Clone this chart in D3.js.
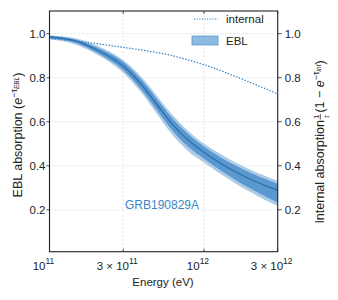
<!DOCTYPE html>
<html>
<head>
<meta charset="utf-8">
<script src="https://cdn.jsdelivr.net/npm/d3@7"></script>
<style>
body{margin:0;background:#fff;}
text{font-family:"Liberation Sans",Arial,sans-serif;}
</style>
</head>
<body>
<svg id="chart" width="338" height="300"></svg>
<script>
// energies (eV) and values
var energy   = [1e11, 1.5e11, 2e11, 3e11, 4e11, 5e11, 6e11, 7e11, 8e11, 1e12, 1.3e12, 1.6e12, 2e12, 2.5e12, 3e12];
var eblMed   = [0.985, 0.965, 0.928, 0.853, 0.763, 0.675, 0.603, 0.552, 0.514, 0.462, 0.409, 0.373, 0.339, 0.310, 0.288];
var eblIn1   = [0.990, 0.973, 0.940, 0.871, 0.785, 0.700, 0.630, 0.579, 0.541, 0.488, 0.436, 0.401, 0.368, 0.340, 0.318];
var eblIn0   = [0.979, 0.957, 0.916, 0.835, 0.740, 0.650, 0.575, 0.522, 0.483, 0.432, 0.376, 0.336, 0.297, 0.261, 0.233];
var eblOut1  = [0.993, 0.978, 0.948, 0.880, 0.798, 0.715, 0.645, 0.594, 0.555, 0.501, 0.450, 0.415, 0.382, 0.354, 0.332];
var eblOut0  = [0.975, 0.949, 0.908, 0.823, 0.726, 0.632, 0.556, 0.502, 0.463, 0.415, 0.360, 0.320, 0.281, 0.244, 0.216];
var internal = [0.978, 0.966, 0.955, 0.938, 0.925, 0.914, 0.903, 0.891, 0.880, 0.859, 0.831, 0.806, 0.778, 0.750, 0.726];
var yTicks = [0.2, 0.4, 0.6, 0.8, 1.0];
var xTicks = [1e11, 3e11, 1e12, 3e12];
var xTickMant = ["", "3 \u00d7 ", "", "3 \u00d7 "];
var xTickExp = ["11", "11", "12", "12"];

var L = 49.5, R = 277.7, T = 11, B = 251.7;
var svg = d3.select("#chart");
var x = d3.scaleLog().domain([1e11, 3e12]).range([L, R]);
var y = d3.scaleLinear().domain([0.01, 1.103]).range([B, T]);

// grid
svg.append("g").selectAll("line").data(yTicks).enter().append("line")
	.attr("x1", L).attr("x2", R)
	.attr("y1", function(d){ return y(d); }).attr("y2", function(d){ return y(d); })
	.attr("stroke", "#dcdcdc").attr("stroke-width", 0.8).attr("stroke-dasharray", "2,2");
svg.append("g").selectAll("line").data([3e11, 1e12]).enter().append("line")
	.attr("x1", function(d){ return x(d); }).attr("x2", function(d){ return x(d); })
	.attr("y1", T).attr("y2", B)
	.attr("stroke", "#dcdcdc").attr("stroke-width", 0.8).attr("stroke-dasharray", "2,2");

var idx = d3.range(energy.length);
function band(lo, hi){
	return d3.area().curve(d3.curveMonotoneX)
		.x(function(i){ return x(energy[i]); })
		.y0(function(i){ return y(lo[i]); })
		.y1(function(i){ return y(hi[i]); })(idx);
}
function line(v){
	return d3.line().curve(d3.curveMonotoneX)
		.x(function(i){ return x(energy[i]); })
		.y(function(i){ return y(v[i]); })(idx);
}

svg.append("path").attr("d", band(eblOut0, eblOut1)).attr("fill", "#abcbe7");
svg.append("path").attr("d", band(eblIn0, eblIn1)).attr("fill", "#5a98cf");
svg.append("path").attr("d", line(eblMed)).attr("fill", "none").attr("stroke", "#2a6fab").attr("stroke-width", 1.3);
svg.append("path").attr("d", line(internal)).attr("fill", "none").attr("stroke", "#3684c4")
	.attr("stroke-width", 1.5).attr("stroke-linecap", "round").attr("stroke-dasharray", "0.1,2.9");

// spines
svg.append("rect").attr("x", L).attr("y", T).attr("width", R - L).attr("height", B - T)
	.attr("fill", "none").attr("stroke", "#222").attr("stroke-width", 1.1);

// left ticks + labels
var gl = svg.append("g").selectAll("g").data(yTicks).enter().append("g");
gl.append("line").attr("x1", L - 3).attr("x2", L).attr("y1", function(d){ return y(d); }).attr("y2", function(d){ return y(d); })
	.attr("stroke", "#222").attr("stroke-width", 0.8);
gl.append("text").attr("x", L - 4).attr("y", function(d){ return y(d) + 4; })
	.attr("text-anchor", "end").attr("font-size", 11.5).attr("fill", "#222")
	.text(function(d){ return d.toFixed(1); });

// right ticks + labels
var gr = svg.append("g").selectAll("g").data(yTicks).enter().append("g");
gr.append("line").attr("x1", R).attr("x2", R + 4).attr("y1", function(d){ return y(d); }).attr("y2", function(d){ return y(d); })
	.attr("stroke", "#222").attr("stroke-width", 0.8);
gr.append("text").attr("x", R + 7).attr("y", function(d){ return y(d) + 4; })
	.attr("text-anchor", "start").attr("font-size", 11.5).attr("fill", "#222")
	.text(function(d){ return d.toFixed(1); });

// x ticks (inward on bottom and top)
var gx = svg.append("g").selectAll("g").data(xTicks).enter().append("g");
gx.append("line").attr("x1", function(d){ return x(d); }).attr("x2", function(d){ return x(d); })
	.attr("y1", B).attr("y2", B - 3).attr("stroke", "#222").attr("stroke-width", 0.8);
gx.append("line").attr("x1", function(d){ return x(d); }).attr("x2", function(d){ return x(d); })
	.attr("y1", T).attr("y2", T + 3).attr("stroke", "#222").attr("stroke-width", 0.8);
var xt = gx.append("text").attr("x", function(d){ return x(d) - 6; }).attr("y", 270)
	.attr("text-anchor", "middle").attr("font-size", 11.5).attr("fill", "#222");
xt.append("tspan").text(function(d, i){ return xTickMant[i] + "10"; });
xt.append("tspan").attr("dy", -6).attr("font-size", 8.5).text(function(d, i){ return xTickExp[i]; });

// axis titles
svg.append("text").attr("x", 163).attr("y", 286).attr("text-anchor", "middle")
	.attr("font-size", 11.5).attr("fill", "#222").text("Energy (eV)");

var ly = svg.append("text").attr("transform", "translate(22,135) rotate(-90)")
	.attr("text-anchor", "middle").attr("font-size", 12.5).attr("fill", "#222");
ly.append("tspan").text("EBL absorption (");
ly.append("tspan").attr("font-style", "italic").text("e");
ly.append("tspan").attr("dy", -5).attr("font-size", 9).text("\u2212\u03c4");
ly.append("tspan").attr("dy", 2).attr("font-size", 6.5).attr("font-style", "italic").text("EBL");
ly.append("tspan").attr("dy", 3).text(")");

// right label built piece by piece in a rotated group
var rg = svg.append("g").attr("transform", "translate(324,142) rotate(-90)");
var rInner = rg.append("g");
var t1 = rInner.append("text").attr("x", 0).attr("y", 0).attr("font-size", 12.5).attr("fill", "#222").text("Internal absorption ");
var w1 = t1.node().getComputedTextLength();
var fx = w1 + 0.5;
rInner.append("text").attr("x", fx + 2.8).attr("y", -5).attr("text-anchor", "middle").attr("font-size", 8).attr("fill", "#222").text("1");
rInner.append("text").attr("x", fx + 2.8).attr("y", 4.5).attr("text-anchor", "middle").attr("font-size", 8).attr("font-style", "italic").attr("fill", "#222").text("\u03c4");
rInner.append("line").attr("x1", fx).attr("x2", fx + 5.6).attr("y1", -3.6).attr("y2", -3.6).attr("stroke", "#222").attr("stroke-width", 0.7);
var t2 = rInner.append("text").attr("x", fx + 7).attr("y", 0).attr("font-size", 12.5).attr("fill", "#222");
t2.append("tspan").text("(1 \u2212 ");
t2.append("tspan").attr("font-style", "italic").text("e");
t2.append("tspan").attr("dy", -5).attr("font-size", 9).text("\u2212\u03c4");
t2.append("tspan").attr("dy", 2).attr("font-size", 6.5).attr("font-style", "italic").text("int");
t2.append("tspan").attr("dy", 3).text(")");
var total = fx + 7 + t2.node().getComputedTextLength();
rInner.attr("transform", "translate(" + (-total / 2) + ",0)");

// legend
svg.append("line").attr("x1", 194).attr("x2", 218).attr("y1", 19).attr("y2", 19)
	.attr("stroke", "#3684c4").attr("stroke-width", 1.2).attr("stroke-dasharray", "1.2,1.4");
svg.append("text").attr("x", 226).attr("y", 23).attr("font-size", 11.5).attr("fill", "#222").text("internal");
svg.append("rect").attr("x", 192).attr("y", 36).attr("width", 26).attr("height", 9)
	.attr("fill", "#8ebadf").attr("stroke", "#5d9bd1").attr("stroke-width", 0.8);
svg.append("text").attr("x", 226).attr("y", 45).attr("font-size", 11.5).attr("fill", "#222").text("EBL");

// source label
svg.append("text").attr("x", 162).attr("y", 209).attr("text-anchor", "middle")
	.attr("font-size", 12).attr("fill", "#3a86c6").text("GRB190829A");
</script>
</body>
</html>
